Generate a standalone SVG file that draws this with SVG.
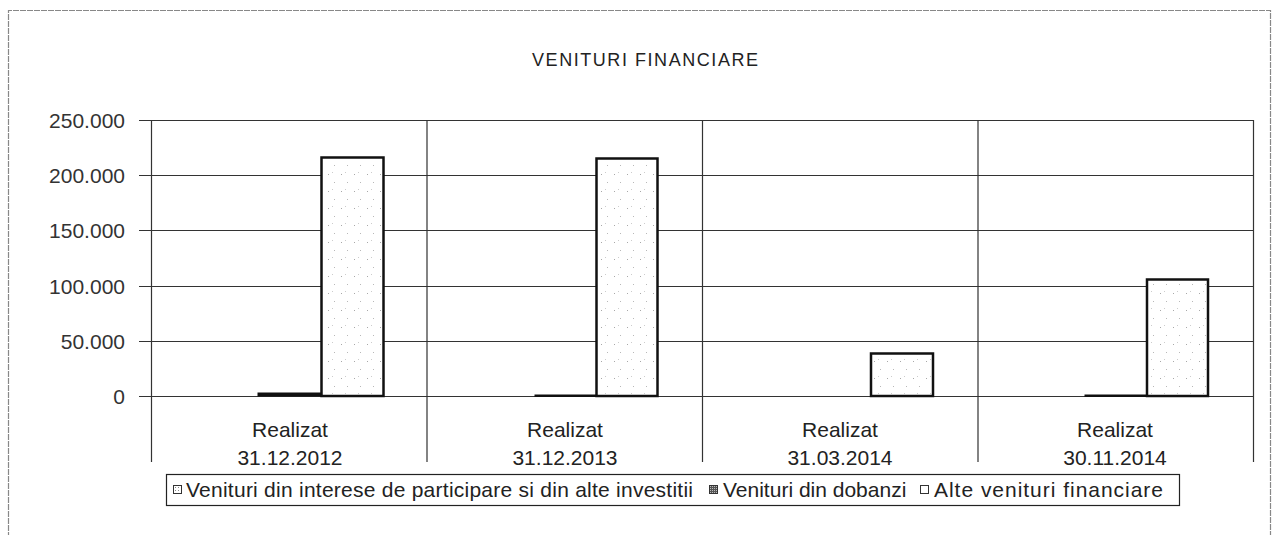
<svg xmlns="http://www.w3.org/2000/svg" width="1276" height="535" viewBox="0 0 1276 535">
  <defs>
    <pattern id="stipple" width="13" height="17" patternUnits="userSpaceOnUse">
      <rect width="13" height="17" fill="#ffffff"/>
      <rect x="3" y="4" width="1" height="1" fill="#a8a8a8"/>
      <rect x="9" y="12" width="1" height="1" fill="#b8b8b8"/>
      <rect x="7" y="2" width="1" height="1" fill="#cccccc"/>
    </pattern>
    <pattern id="dots" width="3" height="3" patternUnits="userSpaceOnUse">
      <rect width="3" height="3" fill="#ffffff"/>
      <rect x="1" y="1" width="1" height="1" fill="#888"/>
    </pattern>
    <pattern id="dark" width="2" height="2" patternUnits="userSpaceOnUse">
      <rect width="2" height="2" fill="#555"/>
      <rect x="0" y="0" width="1" height="1" fill="#bbb"/>
    </pattern>
  </defs>
  <style>
    text { font-family: "Liberation Sans", Arial, sans-serif; fill: #222; }
    .ylab { font-size: 21px; text-anchor: end; fill: #333; }
    .cat { font-size: 21px; text-anchor: middle; }
    .leg { font-size: 21px; }
    .grid { stroke: #333; stroke-width: 1.2; fill: none; }
    .bar { fill: url(#stipple); stroke: #111; stroke-width: 2.5; }
    .small { fill: #111; stroke: #111; stroke-width: 1; }
    .icon { stroke: #333; stroke-width: 1; }
  </style>
  <rect width="1276" height="535" fill="#ffffff"/>
  <g id="frame">
    <path d="M8.5 545 V10.5 H1270.5 V545" fill="none" stroke="#888" stroke-width="1.2" stroke-dasharray="6 1"/>
  </g>
  <g id="title">
    <text x="645" y="66" font-size="18" text-anchor="middle" textLength="226" lengthAdjust="spacing">VENITURI FINANCIARE</text>
  </g>
  <g id="axes">
    <path class="grid" d="M139 120.5 H1253 M139 175.5 H1253 M139 230.5 H1253 M139 286.5 H1253 M139 341.5 H1253 M139 396.5 H1253"/>
    <path class="grid" d="M151.5 120 V462 M427 120 V462 M702.5 120 V462 M978 120 V462 M1253.5 120 V462"/>
    <text class="ylab" x="125" y="128">250.000</text>
    <text class="ylab" x="125" y="183">200.000</text>
    <text class="ylab" x="125" y="238">150.000</text>
    <text class="ylab" x="125" y="294">100.000</text>
    <text class="ylab" x="125" y="349">50.000</text>
    <text class="ylab" x="125" y="404">0</text>
  </g>
  <g id="bars">
    <rect class="small" x="258" y="393" width="63" height="3"/>
    <rect class="bar" x="321.5" y="157.5" width="62" height="238.5"/>
    <rect class="small" x="535" y="395" width="61" height="1.5"/>
    <rect class="bar" x="596.5" y="158.5" width="61" height="237.5"/>
    <rect class="bar" x="871" y="353.5" width="62" height="42.5"/>
    <rect class="small" x="1085" y="395" width="62" height="1.5"/>
    <rect class="bar" x="1147" y="279.5" width="61" height="116.5"/>
  </g>
  <g id="categories">
    <text class="cat" x="290" y="437">Realizat</text>
    <text class="cat" x="290" y="465">31.12.2012</text>
    <text class="cat" x="565" y="437">Realizat</text>
    <text class="cat" x="565" y="465">31.12.2013</text>
    <text class="cat" x="840" y="437">Realizat</text>
    <text class="cat" x="840" y="465">31.03.2014</text>
    <text class="cat" x="1115" y="437">Realizat</text>
    <text class="cat" x="1115" y="465">30.11.2014</text>
  </g>
  <g id="legend">
    <rect x="166.5" y="474.5" width="1013" height="31" fill="#fff" stroke="#222" stroke-width="1.2"/>
    <rect class="icon" x="173.5" y="485.5" width="8" height="8" fill="url(#dots)"/>
    <text class="leg" x="186" y="497" textLength="507" lengthAdjust="spacing">Venituri din interese de participare si din alte investitii</text>
    <rect class="icon" x="709.5" y="485.5" width="8" height="8" fill="url(#dark)"/>
    <text class="leg" x="723" y="497">Venituri din dobanzi</text>
    <rect class="icon" x="920.5" y="485.5" width="8" height="8" fill="#fff"/>
    <text class="leg" x="934" y="497" textLength="229" lengthAdjust="spacing">Alte venituri financiare</text>
  </g>
</svg>
